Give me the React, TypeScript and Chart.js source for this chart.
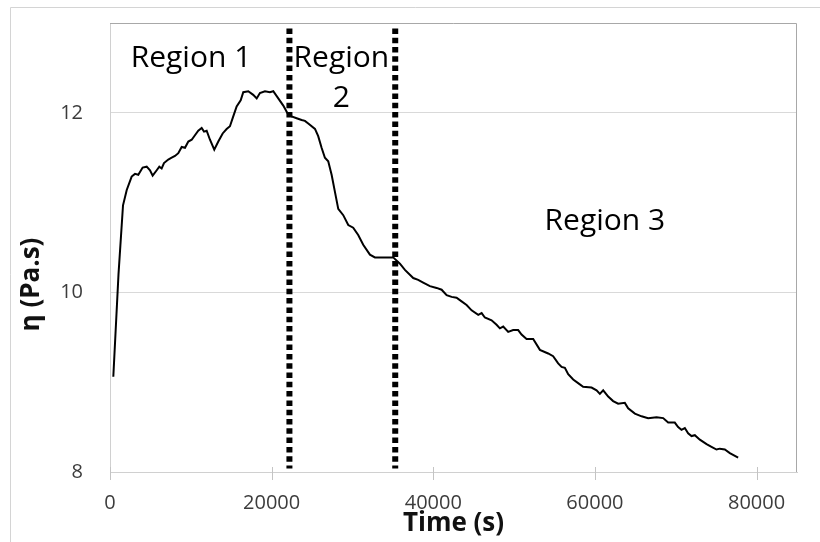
import React, { useEffect, useRef } from "react";
import { Chart, registerables } from "chart.js";

Chart.register(...registerables);

// ---- data ----
const timeS = [
  410, 1050, 1610, 2070, 2680, 3090, 3500, 4040, 4540, 4950, 5280, 5780, 6100, 6390, 6680, 7210,
  7630, 8040, 8450, 8870, 9280, 9690, 10110, 10510, 10920, 11340, 11630, 11960, 12370, 12900,
  13400, 13940, 14430, 14840, 15250, 15670, 16170, 16490, 17110, 17720, 18150, 18550, 19170,
  19790, 20200, 20820, 21440, 21930, 22470, 23090, 23710, 24120, 24530, 25360, 25760, 26180,
  26590, 27000, 27420, 27830, 28240, 28860, 29480, 30090, 30710, 31330, 32160, 32780, 35040,
  35870, 36490, 37520, 38130, 38750, 39580, 40410, 41030, 41650, 42270, 42880, 43500, 44120,
  44740, 45560, 45980, 46380, 47210, 47830, 48240, 48650, 49270, 49880, 50500, 50920, 51540,
  52360, 53190, 54210, 54830, 55450, 55870, 56280, 56690, 57310, 57920, 58540, 59580, 60200,
  60610, 61020, 61640, 62250, 62870, 63700, 64110, 64940, 65770, 66580, 67620, 68440, 69060,
  69880, 70290, 70710, 71120, 71530, 71950, 72360, 72980, 73810, 74420, 75040, 75450, 76070,
  76690, 77720,
];
const viscosity = [
  9.06, 10.2, 10.97, 11.14, 11.29, 11.32, 11.31, 11.39, 11.4, 11.36, 11.3, 11.36, 11.4, 11.38,
  11.44, 11.48, 11.5, 11.52, 11.55, 11.62, 11.61, 11.68, 11.7, 11.75, 11.8, 11.83, 11.79, 11.8,
  11.7, 11.59, 11.68, 11.77, 11.82, 11.85, 11.96, 12.07, 12.14, 12.23, 12.24, 12.2, 12.16, 12.22,
  12.24, 12.23, 12.24, 12.16, 12.08, 12.0, 11.96, 11.94, 11.92, 11.91, 11.88, 11.82, 11.74, 11.61,
  11.5, 11.46, 11.31, 11.12, 10.93, 10.86, 10.75, 10.72, 10.64, 10.53, 10.42, 10.39, 10.39,
  10.32, 10.25, 10.16, 10.14, 10.11, 10.07, 10.05, 10.03, 9.97, 9.95, 9.94, 9.9, 9.86, 9.8,
  9.75, 9.77, 9.72, 9.69, 9.64, 9.6, 9.62, 9.56, 9.58, 9.58, 9.53, 9.48, 9.48, 9.36, 9.32,
  9.29, 9.21, 9.17, 9.16, 9.09, 9.03, 8.99, 8.95, 8.94, 8.91, 8.87, 8.91, 8.84, 8.79, 8.76,
  8.77, 8.71, 8.65, 8.62, 8.6, 8.61, 8.6, 8.55, 8.55, 8.5, 8.47, 8.49, 8.43, 8.4, 8.41, 8.36,
  8.31, 8.28, 8.25, 8.26, 8.25, 8.21, 8.16,
];
const regionBoundaries = [22200, 35290];
const boundaryRange = [12.94, 8.04];
const xTickValues = [0, 20000, 40000, 60000, 80000];
const yTickValues = [8, 10, 12];
const xRange = [0, 85000];
const yRange = [8, 13];
const regionLabels = ["Region 1", "Region", "2", "Region 3"];
const regionLabelX = [10020, 28630, 28630, 61230];
const regionLabelY = [12.51, 12.51, 12.06, 10.7];
const xTitle = "Time (s)";
const yTitle = "η (Pa.s)";

const FONT = '"Open Sans", "Noto Sans", sans-serif';

const decorPlugin = {
  id: "decor",
  beforeDraw(chart: any) {
    const { ctx, width, height } = chart;
    ctx.save();
    ctx.fillStyle = "#ffffff";
    ctx.fillRect(0, 0, width, height);
    ctx.strokeStyle = "#d4d4d4";
    ctx.lineWidth = 1;
    ctx.beginPath();
    ctx.moveTo(10.5, height);
    ctx.lineTo(10.5, 7.5);
    ctx.lineTo(width, 7.5);
    ctx.stroke();
    ctx.restore();
  },
  afterDraw(chart: any) {
    const { ctx, chartArea: a } = chart;
    const x = chart.scales.x;
    const y = chart.scales.y;
    ctx.save();
    ctx.strokeStyle = "#a8a8a8";
    ctx.lineWidth = 1;
    ctx.beginPath();
    ctx.moveTo(a.left, a.top + 0.5);
    ctx.lineTo(a.right - 0.5, a.top + 0.5);
    ctx.lineTo(a.right - 0.5, a.bottom);
    ctx.stroke();
    ctx.strokeStyle = "#c4c4c4";
    xTickValues.forEach((v) => {
      const px = Math.round(x.getPixelForValue(v)) + 0.5;
      ctx.beginPath();
      ctx.moveTo(px, a.bottom - 5);
      ctx.lineTo(px, a.bottom + 8);
      ctx.stroke();
    });
    ctx.fillStyle = "#000";
    ctx.font = `30px ${FONT}`;
    ctx.textAlign = "center";
    ctx.textBaseline = "alphabetic";
    regionLabels.forEach((t, i) => {
      ctx.fillText(t, x.getPixelForValue(regionLabelX[i]), y.getPixelForValue(regionLabelY[i]));
    });
    ctx.font = `bold 26px ${FONT}`;
    ctx.fillStyle = "#111";
    ctx.translate(38.5, 284.5);
    ctx.rotate(-Math.PI / 2);
    ctx.fillText(yTitle, 0, 0);
    ctx.restore();
  },
};

export default function App() {
  const ref = useRef<HTMLCanvasElement | null>(null);
  useEffect(() => {
    if (!ref.current) return;
    const boundarySets = regionBoundaries.map((bx) => ({
      data: boundaryRange.map((by) => ({ x: bx, y: by })),
      borderColor: "#000",
      borderWidth: 6,
      borderDash: [5.5, 3.8],
      borderCapStyle: "butt",
      pointRadius: 0,
      fill: false,
    }));
    const chart = new Chart(ref.current, {
      type: "line",
      data: {
        datasets: [
          {
            data: timeS.map((t, i) => ({ x: t, y: viscosity[i] })),
            borderColor: "#000",
            borderWidth: 2,
            pointRadius: 0,
            tension: 0,
            fill: false,
          },
          ...boundarySets,
        ] as any,
      },
      options: {
        responsive: false,
        animation: false,
        layout: { padding: { top: 23, right: 23, left: 0, bottom: 0 } },
        plugins: { legend: { display: false }, tooltip: { enabled: false } },
        scales: {
          x: {
            type: "linear",
            min: xRange[0],
            max: xRange[1],
            afterBuildTicks: (s: any) => {
              s.ticks = xTickValues.map((v) => ({ value: v }));
            },
            afterFit: (s: any) => {
              s.height = 70;
              s.paddingLeft = 0;
              s.paddingRight = 0;
            },
            grid: { display: false, drawTicks: false },
            border: { display: true, color: "#d0d0d0", width: 1 },
            ticks: {
              padding: 19,
              color: "#3c3c3c",
              font: { family: FONT, size: 20 },
              maxRotation: 0,
              callback: (v: any) => String(v),
            },
            title: {
              display: true,
              text: xTitle,
              color: "#111",
              font: { family: FONT, size: 26, weight: "bold" },
              padding: { top: 0, bottom: 3 },
            },
          },
          y: {
            type: "linear",
            min: yRange[0],
            max: yRange[1],
            afterBuildTicks: (s: any) => {
              s.ticks = yTickValues.map((v) => ({ value: v }));
            },
            afterFit: (s: any) => {
              s.width = 110;
              s.paddingTop = 0;
              s.paddingBottom = 0;
            },
            grid: { display: true, drawTicks: false, color: "#d9d9d9", lineWidth: 1 },
            border: { display: true, color: "#d0d0d0", width: 1 },
            ticks: {
              padding: 27,
              color: "#3c3c3c",
              font: { family: FONT, size: 20 },
              callback: (v: any) => String(v),
            },
          },
        },
      } as any,
      plugins: [decorPlugin],
    });
    let alive = true;
    if ((document as any).fonts) {
      Promise.all([
        (document as any).fonts.load(`30px "Open Sans"`),
        (document as any).fonts.load(`bold 26px "Open Sans"`),
      ]).then(() => {
        if (alive) chart.update();
      });
    }
    return () => {
      alive = false;
      chart.destroy();
    };
  }, []);
  return (
    <div style={{ position: "fixed", left: 0, top: 0, width: 820, height: 542, background: "#fff" }}>
      <canvas ref={ref} width={820} height={542} style={{ display: "block" }} />
    </div>
  );
}
